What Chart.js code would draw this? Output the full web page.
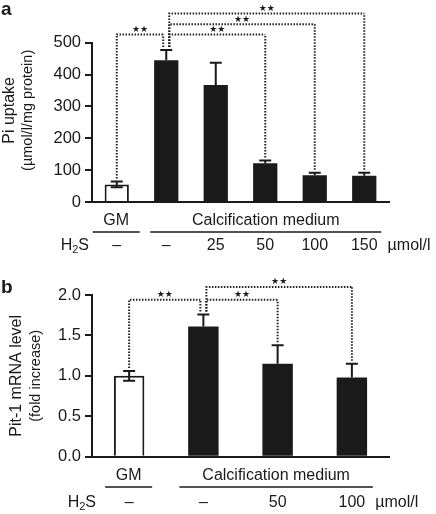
<!DOCTYPE html>
<html>
<head>
<meta charset="utf-8">
<script src="https://cdn.jsdelivr.net/npm/chart.js@4.4.1/dist/chart.umd.min.js"></script>
<style>
  html, body { margin: 0; padding: 0; background: #fff; }
  #wrap { position: relative; width: 436px; height: 514px; }
  .panel { position: absolute; left: 0; width: 436px; height: 257px; }
</style>
</head>
<body>
<div id="wrap">
  <div class="panel" style="top:0"><canvas id="chartA" width="436" height="257"></canvas></div>
  <div class="panel" style="top:257px"><canvas id="chartB" width="436" height="257"></canvas></div>
</div>
<script>
// Panel a: Pi uptake
const doseA = ["–", "–", "25", "50", "100", "150"];
const piUptake = [55, 445, 367, 122, 84, 82];
const piUptakeErr = [9, 32, 70, 8, 8, 10];
const ticksA = [0, 100, 200, 300, 400, 500];
// significance brackets: [from bar, to bar, level in data units]
const bracketsA = [[0, 1, 526], [1, 3, 526], [1, 4, 558], [1, 5, 592]];

// Panel b: Pit-1 mRNA
const doseB = ["–", "–", "50", "100"];
const pit1 = [1.0, 1.61, 1.15, 0.98];
const pit1Err = [0.06, 0.15, 0.23, 0.17];
const ticksB = [0, 0.5, 1.0, 1.5, 2.0];
const bracketsB = [[0, 1, 1.94], [1, 2, 1.94], [1, 3, 2.1]];

const ink = "#1a1a1a";
const FONT = "'Liberation Sans', Arial, sans-serif";

// draws error bars, brackets, group labels and the H2S row
function annotations(cfg) {
  return {
    id: "annot",
    afterDatasetsDraw(chart) {
      const { ctx, scales: { x, y } } = chart;
      const vals = chart.data.datasets[0].data;
      ctx.save();

      // error bars
      ctx.strokeStyle = ink;
      ctx.lineWidth = 2;
      vals.forEach((v, i) => {
        const cx = x.getPixelForValue(i);
        const top = y.getPixelForValue(v + cfg.errors[i]);
        const bot = y.getPixelForValue(i === 0 ? v - cfg.errors[i] : v);
        ctx.beginPath();
        ctx.moveTo(cx, bot); ctx.lineTo(cx, top);
        ctx.moveTo(cx - 6, top); ctx.lineTo(cx + 6, top);
        if (i === 0) { ctx.moveTo(cx - 6, bot); ctx.lineTo(cx + 6, bot); }
        ctx.stroke();
      });

      // brackets
      const starts = new Set(cfg.brackets.map(b => b[0]));
      const ends = new Set(cfg.brackets.map(b => b[1]));
      ctx.lineWidth = 2;
      ctx.strokeStyle = "#222";
      cfg.brackets.forEach(([a, b, lvl]) => {
        const lx = x.getPixelForValue(a) + (ends.has(a) ? 3 : 0);
        const rx = x.getPixelForValue(b) - (starts.has(b) ? 3 : 0);
        const ly = y.getPixelForValue(lvl);
        const lb = y.getPixelForValue(vals[a] + cfg.errors[a]) - 3;
        const rb = y.getPixelForValue(vals[b] + cfg.errors[b]) - 3;
        ctx.setLineDash([1.5, 1.5]);
        ctx.beginPath();
        ctx.moveTo(lx, lb); ctx.lineTo(lx, ly); ctx.lineTo(rx, ly);
        ctx.stroke();
        ctx.beginPath();
        ctx.moveTo(rx, rb); ctx.lineTo(rx, ly);
        ctx.stroke();
        ctx.setLineDash([]);
        ctx.fillStyle = ink;
        ctx.font = "9px 'DejaVu Sans'";
        ctx.textAlign = "center";
        ctx.textBaseline = "middle";
        ctx.fillText("★★", (lx + rx) / 2, ly - 5);
      });

      ctx.fillStyle = ink;
      ctx.strokeStyle = ink;
      ctx.lineWidth = 1.5;

      // panel letter
      ctx.font = "bold 19px " + FONT;
      ctx.textAlign = "left";
      ctx.textBaseline = "alphabetic";
      ctx.fillText(cfg.letter, 1, cfg.letterY);

      // y title (two lines, rotated)
      const midY = (chart.chartArea.top + chart.chartArea.bottom) / 2 + cfg.titleShift;
      cfg.yTitle.forEach((t, k) => {
        ctx.save();
        ctx.translate(cfg.yTitleX[k], midY);
        ctx.rotate(-Math.PI / 2);
        ctx.font = (k === 0 ? "16px " : "14.5px ") + FONT;
        ctx.textAlign = "center";
        ctx.textBaseline = "middle";
        ctx.fillText(t, 0, 0);
        ctx.restore();
      });

      // group labels with underlines
      const n = vals.length;
      const c0 = x.getPixelForValue(0);
      const c1 = x.getPixelForValue(1);
      const cn = x.getPixelForValue(n - 1);
      const groups = [
        ["GM", c0 - 24, c0 + 23],
        ["Calcification medium", c1 - cfg.cmPad[0], cn + cfg.cmPad[1]]
      ];
      ctx.font = "16px " + FONT;
      ctx.textAlign = "center";
      ctx.textBaseline = "middle";
      groups.forEach(([t, l, r]) => {
        ctx.fillText(t, (l + r) / 2, cfg.groupY);
        ctx.beginPath();
        ctx.moveTo(l, cfg.lineY); ctx.lineTo(r, cfg.lineY);
        ctx.stroke();
      });

      // dose row
      cfg.doses.forEach((d, i) => {
        ctx.fillText(d, x.getPixelForValue(i), cfg.doseY);
      });
      const lastW = ctx.measureText(cfg.doses[n - 1]).width;
      ctx.textAlign = "left";
      ctx.fillText("µmol/l", cn + lastW / 2 + 10, cfg.doseY);

      // H2S label
      ctx.textAlign = "right";
      const sW = ctx.measureText("S").width;
      ctx.fillText("S", cfg.h2sRight, cfg.doseY);
      ctx.font = "11px " + FONT;
      const twoW = ctx.measureText("2").width;
      ctx.fillText("2", cfg.h2sRight - sW, cfg.doseY + 4);
      ctx.font = "16px " + FONT;
      ctx.fillText("H", cfg.h2sRight - sW - twoW, cfg.doseY);

      ctx.restore();
    }
  };
}

function makeChart(id, cfg) {
  return new Chart(document.getElementById(id), {
    type: "bar",
    data: {
      labels: cfg.doses,
      datasets: [{
        data: cfg.values,
        backgroundColor: cfg.values.map((v, i) => i === 0 ? "#fff" : ink),
        borderColor: ink,
        borderWidth: cfg.values.map((v, i) => i === 0 ? 2 : 0),
        barPercentage: cfg.barPct,
        categoryPercentage: 1
      }]
    },
    options: {
      responsive: false,
      animation: false,
      layout: { padding: { top: cfg.top, right: 47, left: 0, bottom: 0 } },
      plugins: { legend: { display: false }, tooltip: { enabled: false } },
      scales: {
        x: {
          grid: { display: false },
          border: { color: ink, width: 2 },
          ticks: { display: false },
          afterFit: s => { s.height = cfg.xHeight; }
        },
        y: {
          min: 0,
          max: cfg.ticks[cfg.ticks.length - 1],
          afterBuildTicks: s => { s.ticks = cfg.ticks.map(v => ({ value: v })); },
          ticks: {
            font: { family: FONT, size: 16.5 },
            color: ink,
            padding: 4,
            callback: v => cfg.decimals ? Number(v).toFixed(1) : v
          },
          grid: { drawOnChartArea: false, tickLength: 7, color: ink, lineWidth: 2 },
          border: { color: ink, width: 2 },
          afterFit: s => { s.width = 92; }
        }
      }
    },
    plugins: [annotations(cfg)]
  });
}

makeChart("chartA", {
  doses: doseA, values: piUptake, errors: piUptakeErr, ticks: ticksA, brackets: bracketsA,
  decimals: false, barPct: 0.49, top: 42.7, xHeight: 55,
  letter: "a", letterY: 15,
  yTitle: ["Pi uptake", "(µmol/l/mg protein)"], yTitleX: [10, 28], titleShift: -12,
  cmPad: [16, 17], groupY: 221, lineY: 232, doseY: 246, h2sRight: 89
});

makeChart("chartB", {
  doses: doseB, values: pit1, errors: pit1Err, ticks: ticksB, brackets: bracketsB,
  decimals: true, barPct: 0.41, top: 38, xHeight: 57.3,
  letter: "b", letterY: 36,
  yTitle: ["Pit-1 mRNA level", "(fold increase)"], yTitleX: [17, 35.5], titleShift: 0,
  cmPad: [24, 21], groupY: 219, lineY: 230, doseY: 246, h2sRight: 96
});
</script>
</body>
</html>
